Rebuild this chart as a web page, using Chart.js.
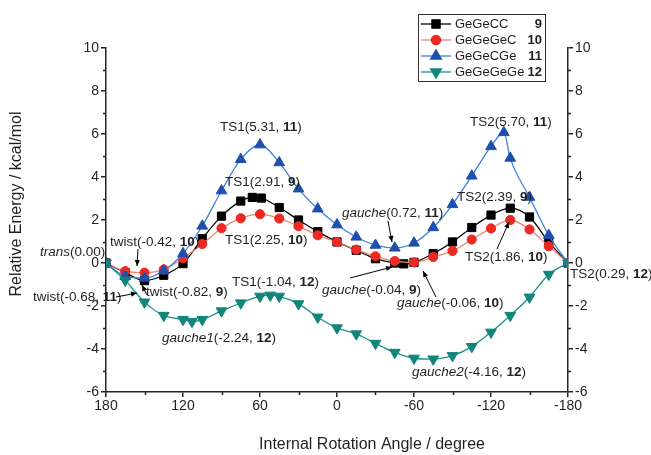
<!DOCTYPE html>
<html>
<head>
<meta charset="utf-8">
<script src="https://cdn.jsdelivr.net/npm/chart.js@4.4.1/dist/chart.umd.min.js"></script>
<style>
  html, body { margin: 0; padding: 0; background: #fff; }
  #wrap { width: 651px; height: 455px; }
</style>
</head>
<body>
<div id="wrap"><canvas id="chart" width="651" height="455"></canvas></div>
<script>
// data: internal rotation angle (deg) vs relative energy (kcal/mol)
const angles9 = [180, 165, 150, 135, 120, 105, 90, 75, 66, 59, 45, 30, 15, 0, -15, -30, -45, -52, -60, -75, -90, -105, -120, -135, -150, -165, -180];
const energy9 = [0, -0.45, -0.82, -0.57, -0.03, 1.13, 2.18, 2.88, 3.05, 3.02, 2.58, 2.0, 1.46, 0.98, 0.59, 0.2, 0.0, -0.04, 0.03, 0.44, 0.98, 1.65, 2.23, 2.55, 2.14, 0.98, 0];

const angles10 = [180, 165, 150, 135, 120, 105, 90, 75, 60, 45, 30, 15, 0, -15, -30, -45, -60, -75, -90, -105, -120, -135, -150, -165, -180];
const energy10 = [0, -0.38, -0.45, -0.30, 0.22, 0.88, 1.62, 2.08, 2.27, 2.07, 1.71, 1.29, 0.98, 0.62, 0.31, 0.09, 0.03, 0.28, 0.56, 1.09, 1.61, 2.0, 1.56, 0.78, 0];

const angles11 = [180, 165, 150, 135, 120, 105, 90, 75, 60, 45, 30, 15, 0, -15, -30, -45, -60, -75, -90, -105, -120, -130, -135, -150, -165, -180];
const energy11 = [0, -0.62, -0.70, -0.36, 0.44, 1.72, 3.36, 4.82, 5.5, 4.67, 3.45, 2.52, 1.78, 1.21, 0.83, 0.70, 0.93, 1.65, 2.72, 4.05, 5.42, 6.07, 4.88, 3.06, 1.29, 0];

const angles12 = [180, 165, 150, 135, 120, 113, 105, 90, 75, 60, 52, 45, 30, 15, 0, -15, -30, -45, -60, -75, -90, -105, -120, -135, -150, -165, -180];
const energy12 = [0, -0.81, -1.82, -2.44, -2.63, -2.72, -2.63, -2.23, -1.86, -1.55, -1.50, -1.55, -1.9, -2.52, -3.02, -3.30, -3.74, -4.16, -4.43, -4.47, -4.31, -3.89, -3.22, -2.44, -1.59, -0.53, 0];

const seriesNames = ["GeGeCC", "GeGeGeC", "GeGeCGe", "GeGeGeGe"];
const seriesNums = ["9", "10", "11", "12"];

const xTicks = [180, 120, 60, 0, -60, -120, -180];
const yTicks = [-6, -4, -2, 0, 2, 4, 6, 8, 10];

const FONT = '"Liberation Sans", Arial, Helvetica, sans-serif';
const INK = '#231f20';
const AXIS = '#2b2220';

const styles = [
  { line: '#000000', fill: '#000000', shape: 'rect', r: 5.8, rot: 0 },
  { line: '#f2866f', fill: '#ec2a24', shape: 'circle', r: 4.6, rot: 0 },
  { line: '#3b82e0', fill: '#1f4fae', shape: 'triangle', r: 6.2, rot: 0 },
  { line: '#17938a', fill: '#11857a', shape: 'triangle', r: 6.2, rot: 180 }
];

const xs = [angles9, angles10, angles11, angles12];
const ys = [energy9, energy10, energy11, energy12];

// annotation labels: [style, text] parts; n = normal, b = bold, i = italic
const notes = [
  { x: 40, y: 252, parts: [['i', 'trans'], ['n', '(0.00)']] },
  { x: 110, y: 242, parts: [['n', 'twist(-0.42, '], ['b', '10'], ['n', ')']] },
  { x: 146, y: 292, parts: [['n', 'twist(-0.82, '], ['b', '9'], ['n', ')']] },
  { x: 33, y: 297, parts: [['n', 'twist(-0.68, '], ['b', '11'], ['n', ')']] },
  { x: 220, y: 127, parts: [['n', 'TS1(5.31, '], ['b', '11'], ['n', ')']] },
  { x: 225, y: 182, parts: [['n', 'TS1(2.91, '], ['b', '9'], ['n', ')']] },
  { x: 225, y: 240, parts: [['n', 'TS1(2.25, '], ['b', '10'], ['n', ')']] },
  { x: 232, y: 282, parts: [['n', 'TS1(-1.04, '], ['b', '12'], ['n', ')']] },
  { x: 162, y: 338, parts: [['i', 'gauche1'], ['n', '(-2.24, '], ['b', '12'], ['n', ')']] },
  { x: 342, y: 213, parts: [['i', 'gauche'], ['n', '(0.72, '], ['b', '11'], ['n', ')']] },
  { x: 470, y: 122, parts: [['n', 'TS2(5.70, '], ['b', '11'], ['n', ')']] },
  { x: 457, y: 197, parts: [['n', 'TS2(2.39, '], ['b', '9'], ['n', ')']] },
  { x: 465, y: 257, parts: [['n', 'TS2(1.86, '], ['b', '10'], ['n', ')']] },
  { x: 322, y: 290, parts: [['i', 'gauche'], ['n', '(-0.04, '], ['b', '9'], ['n', ')']] },
  { x: 397, y: 303, parts: [['i', 'gauche'], ['n', '(-0.06, '], ['b', '10'], ['n', ')']] },
  { x: 412, y: 372, parts: [['i', 'gauche2'], ['n', '(-4.16, '], ['b', '12'], ['n', ')']] },
  { x: 570, y: 274, parts: [['n', 'TS2(0.29, '], ['b', '12'], ['n', ')']] }
];

// leader arrows, pixel from -> to
const arrows = [
  [138, 249, 137, 266],
  [147, 295, 142, 285],
  [116, 297, 137, 293],
  [388, 221, 392, 242],
  [350, 278, 392, 267],
  [436, 297, 423, 271],
  [497, 249, 509, 222]
];

function setFont(ctx, kind, size) {
  const st = kind === 'i' ? 'italic ' : '';
  const wt = kind === 'b' ? 'bold ' : '';
  ctx.font = st + wt + size + 'px ' + FONT;
}

function richText(ctx, parts, x, y, size) {
  ctx.textBaseline = 'middle';
  ctx.textAlign = 'left';
  ctx.fillStyle = INK;
  let cx = x;
  parts.forEach(([kind, t]) => {
    setFont(ctx, kind, size);
    ctx.fillText(t, cx, y);
    cx += ctx.measureText(t).width;
  });
}

function drawArrow(ctx, x1, y1, x2, y2) {
  ctx.strokeStyle = '#000';
  ctx.fillStyle = '#000';
  ctx.lineWidth = 1;
  ctx.beginPath();
  ctx.moveTo(x1, y1);
  ctx.lineTo(x2, y2);
  ctx.stroke();
  const a = Math.atan2(y2 - y1, x2 - x1);
  const L = 6, W = 2.6;
  ctx.beginPath();
  ctx.moveTo(x2, y2);
  ctx.lineTo(x2 - L * Math.cos(a) + W * Math.sin(a), y2 - L * Math.sin(a) - W * Math.cos(a));
  ctx.lineTo(x2 - L * Math.cos(a) - W * Math.sin(a), y2 - L * Math.sin(a) + W * Math.cos(a));
  ctx.closePath();
  ctx.fill();
}

const decor = {
  id: 'decor',
  afterDraw(chart) {
    const ctx = chart.ctx;
    const x = chart.scales.x, y = chart.scales.y;
    const area = chart.chartArea;
    ctx.save();

    // minor ticks
    ctx.strokeStyle = AXIS;
    ctx.lineWidth = 1.5;
    ctx.beginPath();
    for (let v = -5; v <= 9; v += 2) {
      const py = Math.round(y.getPixelForValue(v)) + 0.5;
      ctx.moveTo(area.left, py); ctx.lineTo(area.left - 3, py);
      ctx.moveTo(area.right, py); ctx.lineTo(area.right + 3, py);
    }
    for (let v = -150; v <= 150; v += 60) {
      const px = Math.round(x.getPixelForValue(v)) + 0.5;
      ctx.moveTo(px, area.bottom); ctx.lineTo(px, area.bottom + 3);
    }
    ctx.stroke();

    // axis titles
    ctx.fillStyle = INK;
    ctx.font = '16px ' + FONT;
    ctx.textAlign = 'center';
    ctx.textBaseline = 'middle';
    ctx.fillText('Internal Rotation Angle / degree', 372, 445);
    ctx.save();
    ctx.translate(17, 204);
    ctx.rotate(-Math.PI / 2);
    ctx.fillText('Relative Energy / kcal/mol', 0, 0);
    ctx.restore();

    // annotations
    notes.forEach(n => richText(ctx, n.parts, n.x, n.y, 13.5));
    arrows.forEach(a => drawArrow(ctx, a[0], a[1], a[2], a[3]));

    // legend
    const bx = 418, by = 14, bw = 127, bh = 67;
    ctx.fillStyle = '#fff';
    ctx.fillRect(bx, by, bw, bh);
    ctx.strokeStyle = '#333';
    ctx.lineWidth = 1;
    ctx.strokeRect(bx + 0.5, by + 0.5, bw, bh);
    seriesNames.forEach((name, i) => {
      const ry = 24 + i * 16;
      const s = styles[i];
      ctx.strokeStyle = s.line;
      ctx.lineWidth = 1.3;
      ctx.beginPath();
      ctx.moveTo(421, ry); ctx.lineTo(451, ry);
      ctx.stroke();
      ctx.fillStyle = s.fill;
      ctx.strokeStyle = s.fill;
      Chart.helpers.drawPoint(ctx, { pointStyle: s.shape, radius: s.r, rotation: s.rot, borderWidth: 1 }, 436, ry);
      ctx.fillStyle = INK;
      ctx.textBaseline = 'middle';
      ctx.textAlign = 'left';
      ctx.font = '13px ' + FONT;
      ctx.fillText(name, 455, ry);
      ctx.textAlign = 'right';
      ctx.font = 'bold 13px ' + FONT;
      ctx.fillText(seriesNums[i], 542, ry);
    });
    ctx.restore();
  }
};

const datasets = seriesNames.map((name, i) => ({
  label: name + ' ' + seriesNums[i],
  data: xs[i].map((a, k) => ({ x: a, y: ys[i][k] })),
  borderColor: styles[i].line,
  borderWidth: 1.3,
  backgroundColor: styles[i].fill,
  pointBackgroundColor: styles[i].fill,
  pointBorderColor: styles[i].fill,
  pointStyle: styles[i].shape,
  pointRadius: styles[i].r,
  pointRotation: styles[i].rot,
  pointBorderWidth: 1,
  cubicInterpolationMode: 'monotone',
  order: 4 - i,
  yAxisID: 'y'
}));

const tickFont = { family: FONT, size: 14 };

new Chart(document.getElementById('chart'), {
  type: 'line',
  data: { datasets },
  options: {
    responsive: false,
    animation: false,
    devicePixelRatio: 1,
    layout: { padding: { top: 48, left: 0, right: 0, bottom: 0 } },
    plugins: { legend: { display: false }, tooltip: { enabled: false } },
    scales: {
      x: {
        type: 'linear',
        reverse: true,
        min: -180, max: 180,
        afterBuildTicks: s => { s.ticks = xTicks.map(v => ({ value: v })); },
        afterFit: s => { s.height = 63; },
        ticks: { color: INK, font: tickFont, padding: 1, maxRotation: 0 },
        grid: { drawOnChartArea: false, drawTicks: true, tickLength: 5, color: AXIS, lineWidth: 1.5 },
        border: { display: true, color: AXIS, width: 1.5 }
      },
      y: {
        position: 'left',
        min: -6, max: 10,
        afterBuildTicks: s => { s.ticks = yTicks.map(v => ({ value: v })); },
        afterFit: s => { s.width = 106; },
        ticks: { color: INK, font: tickFont, padding: 2 },
        grid: { drawOnChartArea: false, drawTicks: true, tickLength: 5, color: AXIS, lineWidth: 1.5 },
        border: { display: true, color: AXIS, width: 1.5 }
      },
      y2: {
        position: 'right',
        min: -6, max: 10,
        afterBuildTicks: s => { s.ticks = yTicks.map(v => ({ value: v })); },
        afterFit: s => { s.width = 83; },
        ticks: { color: INK, font: tickFont, padding: 2 },
        grid: { drawOnChartArea: false, drawTicks: true, tickLength: 5, color: AXIS, lineWidth: 1.5 },
        border: { display: true, color: AXIS, width: 1.5 }
      }
    }
  },
  plugins: [decor]
});
</script>
</body>
</html>
